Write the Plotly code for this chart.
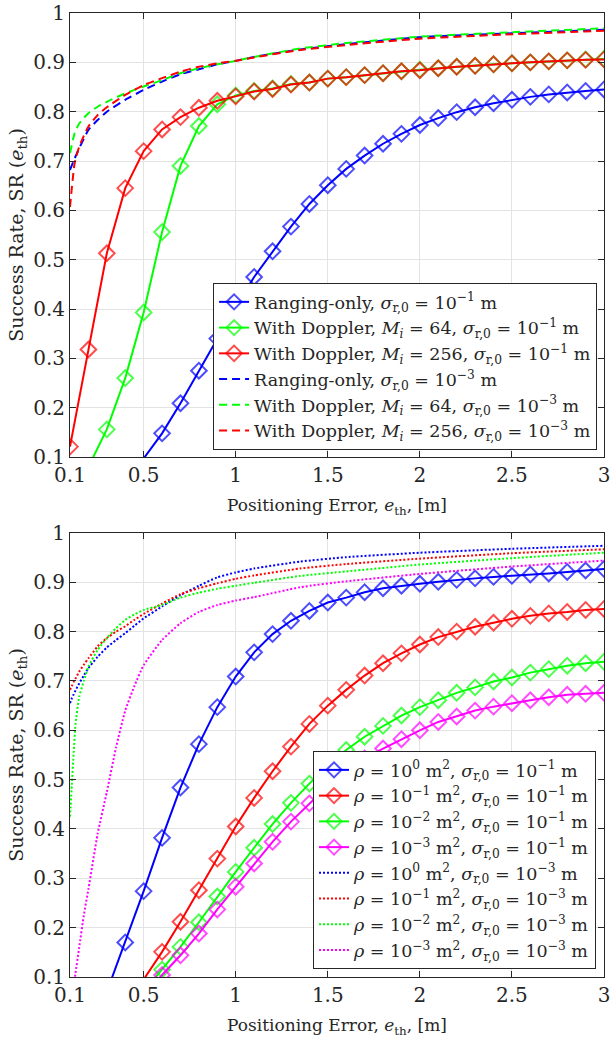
import plotly.graph_objects as go
from plotly.subplots import make_subplots
import numpy as np

# ---------------- data: top panel ----------------
x_top_blue = [0.5, 0.6, 0.7, 0.8, 0.9, 1.0, 1.1, 1.2, 1.3, 1.4, 1.5, 1.6, 1.7, 1.8, 1.9, 2.0,
              2.1, 2.2, 2.3, 2.4, 2.5, 2.6, 2.7, 2.8, 2.9, 3.0]
y_top_blue = [0.097, 0.148, 0.209, 0.275, 0.34, 0.405, 0.465, 0.517, 0.567, 0.613, 0.651, 0.684,
              0.711, 0.735, 0.755, 0.773, 0.787, 0.799, 0.809, 0.817, 0.824, 0.83, 0.835, 0.839,
              0.842, 0.845]
x_top_green = [0.2, 0.3, 0.4, 0.5, 0.6, 0.7, 0.8, 0.9, 1.0, 1.1, 1.2, 1.3, 1.4, 1.5, 1.6, 1.7,
               1.8, 1.9, 2.0, 2.1, 2.2, 2.3, 2.4, 2.5, 2.6, 2.7, 2.8, 2.9, 3.0]
y_top_green = [0.08, 0.156, 0.26, 0.393, 0.556, 0.69, 0.771, 0.815, 0.833, 0.842, 0.847, 0.856,
               0.859, 0.867, 0.87, 0.874, 0.878, 0.882, 0.885, 0.888, 0.891, 0.893, 0.896, 0.898,
               0.9, 0.902, 0.904, 0.906, 0.907]
x_top_red = [0.1, 0.2, 0.3, 0.4, 0.5, 0.6, 0.7, 0.8, 0.9, 1.0, 1.1, 1.2, 1.3, 1.4, 1.5, 1.6, 1.7,
             1.8, 1.9, 2.0, 2.1, 2.2, 2.3, 2.4, 2.5, 2.6, 2.7, 2.8, 2.9, 3.0]
y_top_red = [0.121, 0.318, 0.513, 0.645, 0.72, 0.764, 0.789, 0.808, 0.822, 0.831, 0.841, 0.846,
             0.855, 0.859, 0.867, 0.87, 0.874, 0.878, 0.882, 0.884, 0.888, 0.891, 0.893, 0.896,
             0.898, 0.9, 0.902, 0.904, 0.905, 0.906]

x_dash = [0.1, 0.125, 0.15, 0.2, 0.25, 0.3, 0.4, 0.5, 0.6, 0.7, 0.8, 0.9, 1.0, 1.1, 1.35, 1.6,
          2.0, 2.5, 3.0]
y_dash_blue = [0.682, 0.705, 0.726, 0.763, 0.783, 0.8, 0.824, 0.844, 0.861, 0.876, 0.886, 0.896,
               0.903, 0.911, 0.926, 0.937, 0.951, 0.959, 0.966]
y_dash_green = [0.716, 0.756, 0.776, 0.797, 0.81, 0.82, 0.837, 0.851, 0.864, 0.878, 0.888, 0.896,
                0.903, 0.911, 0.928, 0.939, 0.952, 0.961, 0.969]
y_dash_red = [0.607, 0.695, 0.729, 0.77, 0.793, 0.809, 0.834, 0.854, 0.868, 0.881, 0.891, 0.898,
              0.903, 0.91, 0.925, 0.935, 0.948, 0.957, 0.964]

# ---------------- data: bottom panel ----------------
x_bot_blue = [0.3, 0.4, 0.5, 0.6, 0.7, 0.8, 0.9, 1.0, 1.1, 1.2, 1.3, 1.4, 1.5, 1.6, 1.7, 1.8,
              1.9, 2.0, 2.1, 2.2, 2.3, 2.4, 2.5, 2.6, 2.7, 2.8, 2.9, 3.0]
y_bot_blue = [0.07, 0.17, 0.274, 0.382, 0.484, 0.572, 0.647, 0.709, 0.758, 0.795, 0.822, 0.842,
              0.859, 0.869, 0.88, 0.888, 0.893, 0.897, 0.901, 0.905, 0.908, 0.911, 0.913, 0.916,
              0.918, 0.921, 0.924, 0.927]
x_bot = [0.5, 0.6, 0.7, 0.8, 0.9, 1.0, 1.1, 1.2, 1.3, 1.4, 1.5, 1.6, 1.7, 1.8, 1.9, 2.0, 2.1,
         2.2, 2.3, 2.4, 2.5, 2.6, 2.7, 2.8, 2.9, 3.0]
y_bot_red = [0.095, 0.151, 0.212, 0.276, 0.34, 0.405, 0.463, 0.517, 0.567, 0.613, 0.65, 0.682,
             0.711, 0.736, 0.756, 0.774, 0.789, 0.8, 0.81, 0.818, 0.826, 0.832, 0.837, 0.84,
             0.844, 0.846]
y_bot_green = [0.07, 0.115, 0.161, 0.211, 0.263, 0.313, 0.362, 0.41, 0.453, 0.492, 0.528, 0.56,
               0.587, 0.609, 0.63, 0.647, 0.661, 0.676, 0.687, 0.699, 0.707, 0.717, 0.724, 0.731,
               0.736, 0.739]
y_bot_magenta = [0.06, 0.104, 0.144, 0.188, 0.237, 0.283, 0.33, 0.374, 0.415, 0.452, 0.487,
                 0.517, 0.543, 0.563, 0.582, 0.6, 0.617, 0.628, 0.64, 0.648, 0.655, 0.661, 0.667,
                 0.672, 0.674, 0.676]

x_dot = [0.1, 0.11, 0.12, 0.13, 0.15, 0.175, 0.2, 0.25, 0.3, 0.35, 0.4, 0.45, 0.5, 0.6, 0.7, 0.8,
         0.9, 1.0, 1.1, 1.35, 1.6, 2.0, 2.5, 3.0]
y_dot_blue = [0.655, 0.665, 0.673, 0.681, 0.695, 0.711, 0.726, 0.749, 0.768, 0.783, 0.797, 0.812,
              0.827, 0.851, 0.874, 0.893, 0.91, 0.92, 0.928, 0.942, 0.951, 0.96, 0.968, 0.974]
y_dot_red = [0.682, 0.69, 0.698, 0.705, 0.719, 0.733, 0.746, 0.77, 0.787, 0.8, 0.811, 0.824,
             0.836, 0.857, 0.876, 0.888, 0.898, 0.907, 0.914, 0.928, 0.937, 0.948, 0.959, 0.967]
y_dot_green = [0.425, 0.49, 0.555, 0.612, 0.668, 0.7, 0.729, 0.763, 0.787, 0.807, 0.824, 0.835,
               0.844, 0.854, 0.869, 0.879, 0.887, 0.893, 0.899, 0.913, 0.922, 0.936, 0.949, 0.96]
y_dot_magenta = [0.02, 0.05, 0.08, 0.108, 0.16, 0.225, 0.278, 0.39, 0.475, 0.565, 0.64, 0.69,
                 0.732, 0.783, 0.817, 0.84, 0.854, 0.863, 0.87, 0.89, 0.902, 0.917, 0.932, 0.944]

x_ticks = [0.1, 0.5, 1, 1.5, 2, 2.5, 3]
x_tick_text = ["0.1", "0.5", "1", "1.5", "2", "2.5", "3"]
y_ticks = [0.1, 0.2, 0.3, 0.4, 0.5, 0.6, 0.7, 0.8, 0.9, 1.0]
y_tick_text = ["0.1", "0.2", "0.3", "0.4", "0.5", "0.6", "0.7", "0.8", "0.9", "1"]

top_names = [
    "Ranging-only, <i>σ</i><sub>r,0</sub> = 10<sup>−1</sup> m",
    "With Doppler, <i>M<sub>i</sub></i> = 64, <i>σ</i><sub>r,0</sub> = 10<sup>−1</sup> m",
    "With Doppler, <i>M<sub>i</sub></i> = 256, <i>σ</i><sub>r,0</sub> = 10<sup>−1</sup> m",
    "Ranging-only, <i>σ</i><sub>r,0</sub> = 10<sup>−3</sup> m",
    "With Doppler, <i>M<sub>i</sub></i> = 64, <i>σ</i><sub>r,0</sub> = 10<sup>−3</sup> m",
    "With Doppler, <i>M<sub>i</sub></i> = 256, <i>σ</i><sub>r,0</sub> = 10<sup>−3</sup> m",
]
bot_names = [
    "<i>ρ</i> = 10<sup>0</sup> m<sup>2</sup>, <i>σ</i><sub>r,0</sub> = 10<sup>−1</sup> m",
    "<i>ρ</i> = 10<sup>−1</sup> m<sup>2</sup>, <i>σ</i><sub>r,0</sub> = 10<sup>−1</sup> m",
    "<i>ρ</i> = 10<sup>−2</sup> m<sup>2</sup>, <i>σ</i><sub>r,0</sub> = 10<sup>−1</sup> m",
    "<i>ρ</i> = 10<sup>−3</sup> m<sup>2</sup>, <i>σ</i><sub>r,0</sub> = 10<sup>−1</sup> m",
    "<i>ρ</i> = 10<sup>0</sup> m<sup>2</sup>, <i>σ</i><sub>r,0</sub> = 10<sup>−3</sup> m",
    "<i>ρ</i> = 10<sup>−1</sup> m<sup>2</sup>, <i>σ</i><sub>r,0</sub> = 10<sup>−3</sup> m",
    "<i>ρ</i> = 10<sup>−2</sup> m<sup>2</sup>, <i>σ</i><sub>r,0</sub> = 10<sup>−3</sup> m",
    "<i>ρ</i> = 10<sup>−3</sup> m<sup>2</sup>, <i>σ</i><sub>r,0</sub> = 10<sup>−3</sup> m",
]

BLUE, GREEN, RED, MAG = "#0000ff", "#00ff00", "#ff0000", "#ff00ff"
FONT = "DejaVu Serif"
TXT = "#262626"

fig = make_subplots(rows=2, cols=1, vertical_spacing=0.0791)


def marker_line(x, y, color, name, row, legend):
    y = np.asarray(y)
    sizes = np.where(y >= 0.0999, 12, 0)
    fig.add_trace(go.Scatter(
        x=x, y=y, mode="lines+markers", name=name, legend=legend,
        line=dict(color=color, width=2),
        marker=dict(symbol="diamond-open", size=sizes, color=color, line=dict(width=2, color=color)),
    ), row=row, col=1)


def plain_line(x, y, color, name, row, legend, dash):
    fig.add_trace(go.Scatter(
        x=x, y=y, mode="lines", name=name, legend=legend,
        line=dict(color=color, width=2, dash=dash, shape="spline", smoothing=0.5),
    ), row=row, col=1)


marker_line(x_top_blue, y_top_blue, BLUE, top_names[0], 1, "legend")
marker_line(x_top_green, y_top_green, GREEN, top_names[1], 1, "legend")
marker_line(x_top_red, y_top_red, RED, top_names[2], 1, "legend")
plain_line(x_dash, y_dash_blue, BLUE, top_names[3], 1, "legend", "8px,5px")
plain_line(x_dash, y_dash_green, GREEN, top_names[4], 1, "legend", "8px,5px")
plain_line(x_dash, y_dash_red, RED, top_names[5], 1, "legend", "8px,5px")

marker_line(x_bot_blue, y_bot_blue, BLUE, bot_names[0], 2, "legend2")
marker_line(x_bot, y_bot_red, RED, bot_names[1], 2, "legend2")
marker_line(x_bot, y_bot_green, GREEN, bot_names[2], 2, "legend2")
marker_line(x_bot, y_bot_magenta, MAG, bot_names[3], 2, "legend2")
plain_line(x_dot, y_dot_blue, BLUE, bot_names[4], 2, "legend2", "2px,2px")
plain_line(x_dot, y_dot_red, RED, bot_names[5], 2, "legend2", "2px,2px")
plain_line(x_dot, y_dot_green, GREEN, bot_names[6], 2, "legend2", "2px,2px")
plain_line(x_dot, y_dot_magenta, MAG, bot_names[7], 2, "legend2", "2px,2px")

axis_common = dict(
    showline=True, linecolor=TXT, linewidth=1, mirror="ticks",
    ticks="inside", ticklen=6, tickcolor=TXT, tickwidth=1,
    showgrid=True, gridcolor="#e3e3e3", gridwidth=1, zeroline=False,
    automargin=False, ticklabeloverflow="allow",
    tickfont=dict(family=FONT, size=20, color=TXT),
)
xtitle = "Positioning Error, <i>e</i><sub>th</sub>, [m]"
ytitle = "Success Rate, SR (<i>e</i><sub>th</sub>)"
for r in (1, 2):
    fig.update_xaxes(range=[0.1, 3], tickvals=x_ticks, ticktext=x_tick_text,
                     title=dict(text=xtitle, font=dict(family=FONT, size=17, color=TXT), standoff=13),
                     row=r, col=1, **axis_common)
    fig.update_yaxes(range=[0.1, 1], tickvals=y_ticks, ticktext=y_tick_text,
                     title=dict(text=ytitle, font=dict(family=FONT, size=19, color=TXT), standoff=4),
                     row=r, col=1, **axis_common)

fig.update_layout(
    width=610, height=1039,
    margin=dict(l=70, r=6, t=13, b=62),
    paper_bgcolor="white", plot_bgcolor="white",
    font=dict(family=FONT, color=TXT),
    showlegend=True,
    legend=dict(x=0.987, y=0.5467, xanchor="right", yanchor="bottom",
                bgcolor="white", bordercolor=TXT, borderwidth=1,
                font=dict(family=FONT, size=17.5, color=TXT), itemwidth=30, tracegroupgap=0),
    legend2=dict(x=0.985, y=0.0083, xanchor="right", yanchor="bottom",
                 bgcolor="white", bordercolor=TXT, borderwidth=1,
                 font=dict(family=FONT, size=17.5, color=TXT), itemwidth=30, tracegroupgap=0),
)
fig.update_yaxes(domain=[0.5394, 1.0], row=1, col=1)
fig.update_yaxes(domain=[0.0, 0.4606], row=2, col=1)

fig.write_html("out.html", config={"displayModeBar": False},
               post_script="document.body.style.margin='0';")
